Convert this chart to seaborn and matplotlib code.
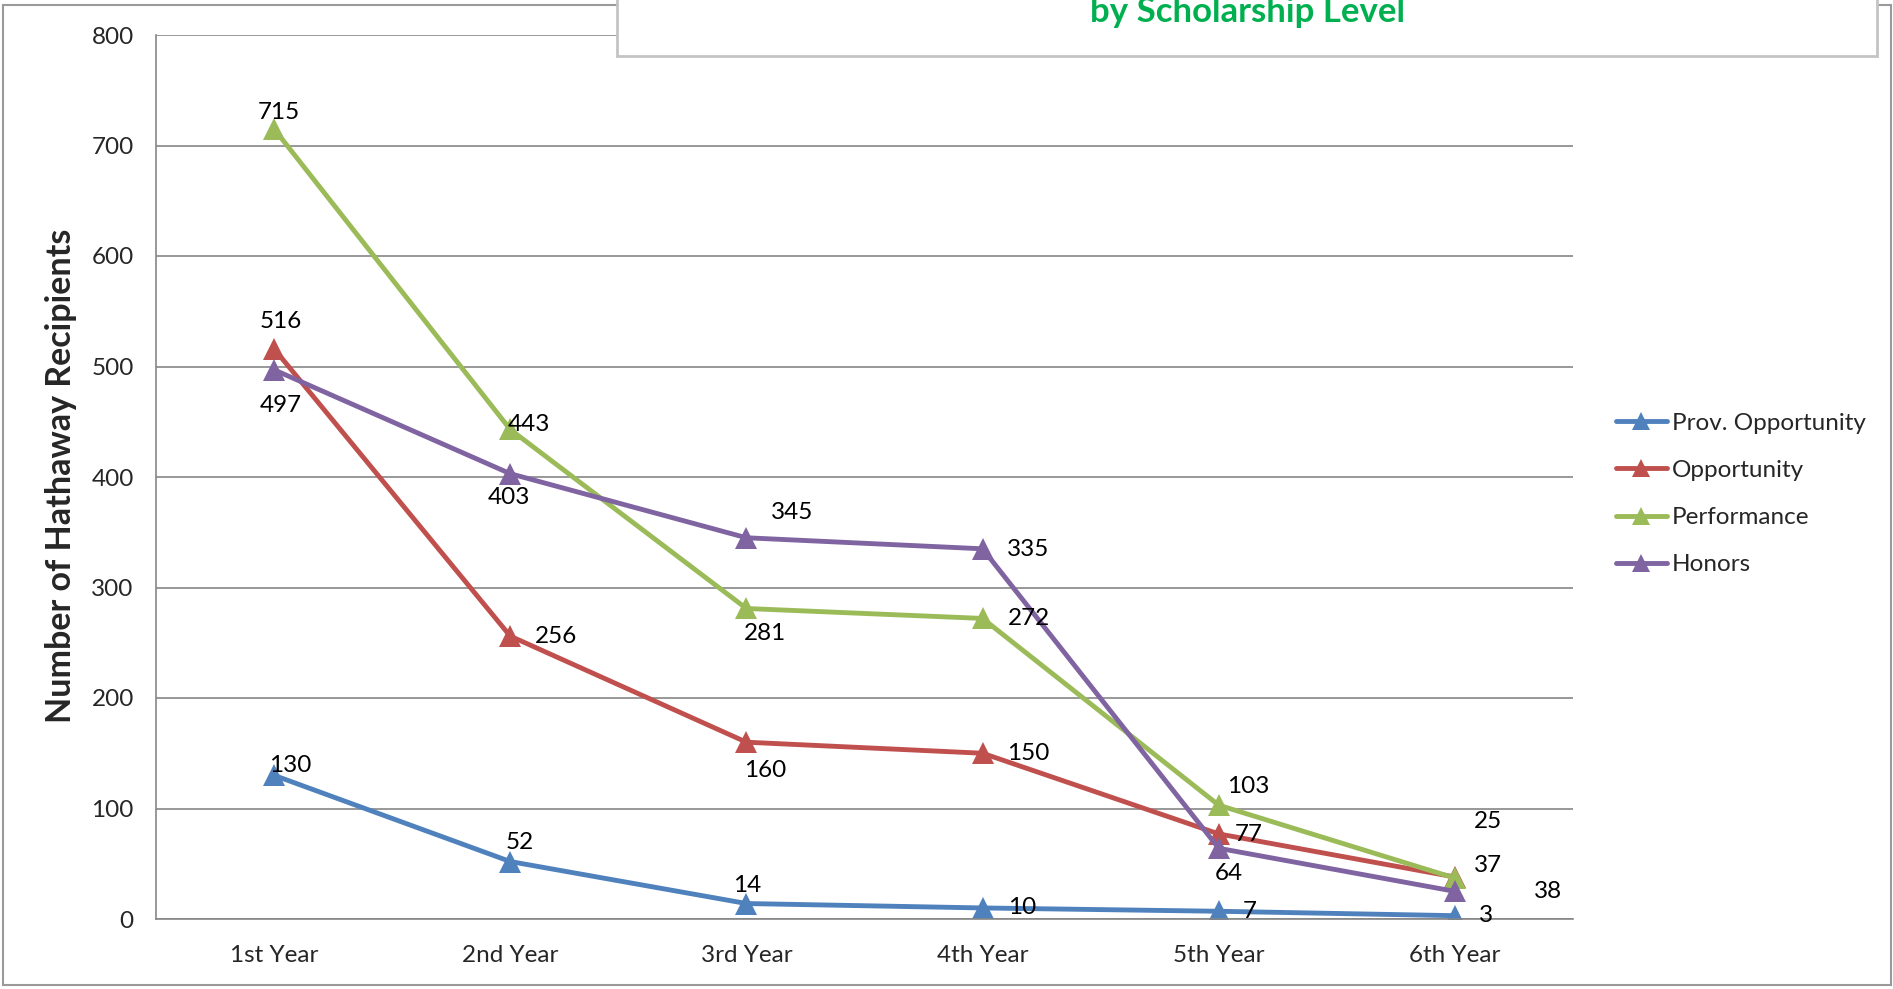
import matplotlib
matplotlib.use("Agg")
import matplotlib.pyplot as plt
import seaborn as sns
import pandas as pd
from matplotlib.patches import Rectangle

categories = ["1st Year", "2nd Year", "3rd Year", "4th Year", "5th Year", "6th Year"]
series_names = ["Prov. Opportunity", "Opportunity", "Performance", "Honors"]
prov_opportunity = [130, 52, 14, 10, 7, 3]
opportunity = [516, 256, 160, 150, 77, 38]
performance = [715, 443, 281, 272, 103, 37]
honors = [497, 403, 345, 335, 64, 25]
y_ticks = [0, 100, 200, 300, 400, 500, 600, 700, 800]
title_text = "by Scholarship Level"
y_label = "Number of Hathaway Recipients"

colors = ["#4F81BD", "#C0504D", "#9BBB59", "#8064A2"]
# label offsets (pixels) per series
offsets = [
    [(16, 10), (10, 19), (1, 18), (40, 0), (31, 0), (31, 0)],
    [(7, 27), (46, 0), (19, -28), (46, 0), (30, -1), (93, -14)],
    [(5, 16), (19, 5), (19, -25), (46, 0), (29, 19), (33, 13)],
    [(7, -36), (-1, -24), (46, 25), (46, -1), (10, -25), (33, 70)],
]

sns.set_theme(style="white")
plt.rcParams["font.family"] = ["Lato", "DejaVu Sans"]

W, H = 1893, 989
fig = plt.figure(figsize=(W / 100, H / 100), dpi=100)
ax = fig.add_axes([156 / W, 1 - 919 / H, (1573 - 156) / W, (919 - 35) / H])

all_vals = [prov_opportunity, opportunity, performance, honors]
frames = []
for name, vals in zip(series_names, all_vals):
    frames.append(pd.DataFrame({"Year": categories, "Count": vals, "Series": name}))
df = pd.concat(frames, ignore_index=True)

sns.lineplot(data=df, x="Year", y="Count", hue="Series", palette=colors,
             hue_order=series_names, marker="^", markersize=16, linewidth=3.5,
             markeredgewidth=0, ax=ax, sort=False)

FS = 17.5
for vals, offs in zip(all_vals, offsets):
    for i, (v, o) in enumerate(zip(vals, offs)):
        ax.annotate(str(v), (i, v), xytext=o, textcoords="offset pixels",
                    ha="center", va="center", fontsize=FS, color="black")

ax.set_xlim(-0.5, 5.5)
ax.set_ylim(0, 800)
ax.set_yticks(y_ticks)
ax.set_yticklabels([str(t) for t in y_ticks], fontsize=FS)
ax.set_xticks(range(len(categories)))
ax.set_xticklabels(categories, fontsize=FS)
ax.tick_params(axis="y", length=0, pad=16)
ax.tick_params(axis="x", length=0, pad=19)
ax.yaxis.grid(True, color="#868686", linewidth=1.2)
ax.xaxis.grid(False)
for s in ["top", "right"]:
    ax.spines[s].set_visible(False)
for s in ["left", "bottom"]:
    ax.spines[s].set_color("#868686")
    ax.spines[s].set_linewidth(1.2)
ax.set_xlabel("")
ax.set_ylabel("")
fig.text(61 / W, 1 - 476 / H, y_label, rotation=90, ha="center", va="center",
         fontsize=24.5, fontweight="bold")

leg = ax.legend(loc="center left", bbox_to_anchor=(1594 / W, 1 - 494 / H),
                bbox_transform=fig.transFigure, frameon=False, fontsize=FS,
                handlelength=2.1, handletextpad=0.2, labelspacing=1.07)
for line in leg.get_lines():
    line.set_linewidth(3.5)
    line.set_markersize(13)

# outer border
fig.patches.append(Rectangle((3 / W, 1 - 985 / H), (1891 - 3) / W, (985 - 5) / H,
                             transform=fig.transFigure, fill=False,
                             edgecolor="#9A9A9A", linewidth=1.5, zorder=0))
# title box
fig.patches.append(Rectangle((617 / W, 1 - 56 / H), (1877 - 617) / W, 60 / H,
                             transform=fig.transFigure, facecolor="white",
                             edgecolor="#C4C4C4", linewidth=2, zorder=5))
fig.text(1247 / W, 1 - 12 / H, title_text, ha="center", va="center",
         fontsize=25, fontweight="bold", color="#00B050", zorder=6)

fig.savefig("out.png", dpi=100)
